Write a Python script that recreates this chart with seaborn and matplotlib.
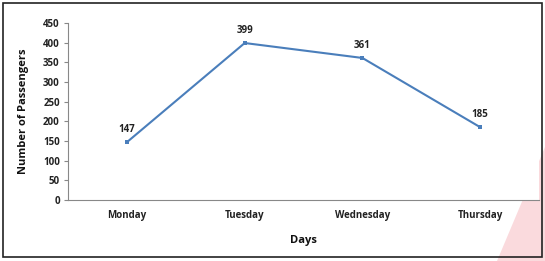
import matplotlib
matplotlib.use("Agg")
import matplotlib.pyplot as plt
import seaborn as sns
import pandas as pd
from matplotlib.patches import Rectangle, Polygon

days = ['Monday', 'Tuesday', 'Wednesday', 'Thursday']
passengers = [147, 399, 361, 185]
yticks = [0, 50, 100, 150, 200, 250, 300, 350, 400, 450]

df = pd.DataFrame({'Days': days, 'Passengers': passengers})

sns.set_style('white')
plt.rcParams['font.family'] = ['Open Sans', 'DejaVu Sans']

fig = plt.figure(figsize=(5.45, 2.61), dpi=100)
ax = fig.add_axes([0.125, 0.234, 0.864, 0.678])

sns.lineplot(data=df, x='Days', y='Passengers', ax=ax, color='#4a7ebb',
             marker='s', markersize=3.5, markeredgewidth=0, linewidth=1.5, sort=False)

for i, v in enumerate(passengers):
    ax.annotate(str(v), (i, v), xytext=(0, 5), textcoords='offset points',
                ha='center', va='bottom', fontsize=7, fontweight='bold', color='#222222')

ax.set_xlim(-0.5, 3.5)
ax.set_ylim(0, 450)
ax.set_yticks(yticks)
ax.tick_params(axis='y', labelsize=7, length=3, color='#888888', pad=3, labelcolor='#222222')
ax.tick_params(axis='x', labelsize=7, length=0, pad=7, labelcolor='#222222')
for lab in ax.get_xticklabels() + ax.get_yticklabels():
    lab.set_fontweight('bold')
ax.yaxis.set_ticks_position('left')

for s in ['top', 'right']:
    ax.spines[s].set_visible(False)
for s in ['left', 'bottom']:
    ax.spines[s].set_color('#888888')
    ax.spines[s].set_linewidth(0.8)

ax.set_xlabel('Days', fontsize=8, fontweight='bold', labelpad=10, color='#111111')
ax.set_ylabel('Number of Passengers', fontsize=8, fontweight='bold', labelpad=10, color='#111111')

# faint watermark wedge and image frame
fig.patches.append(Polygon([(0.912, 0.0), (1.0, 0.0), (1.0, 0.437)], closed=True,
                           transform=fig.transFigure, facecolor='#fadadd', edgecolor='none', zorder=-1))
fig.patches.append(Rectangle((0.006, 0.015), 0.988, 0.975, transform=fig.transFigure,
                             fill=False, edgecolor='#222222', linewidth=1.2))

fig.savefig('out.png', dpi=100)
